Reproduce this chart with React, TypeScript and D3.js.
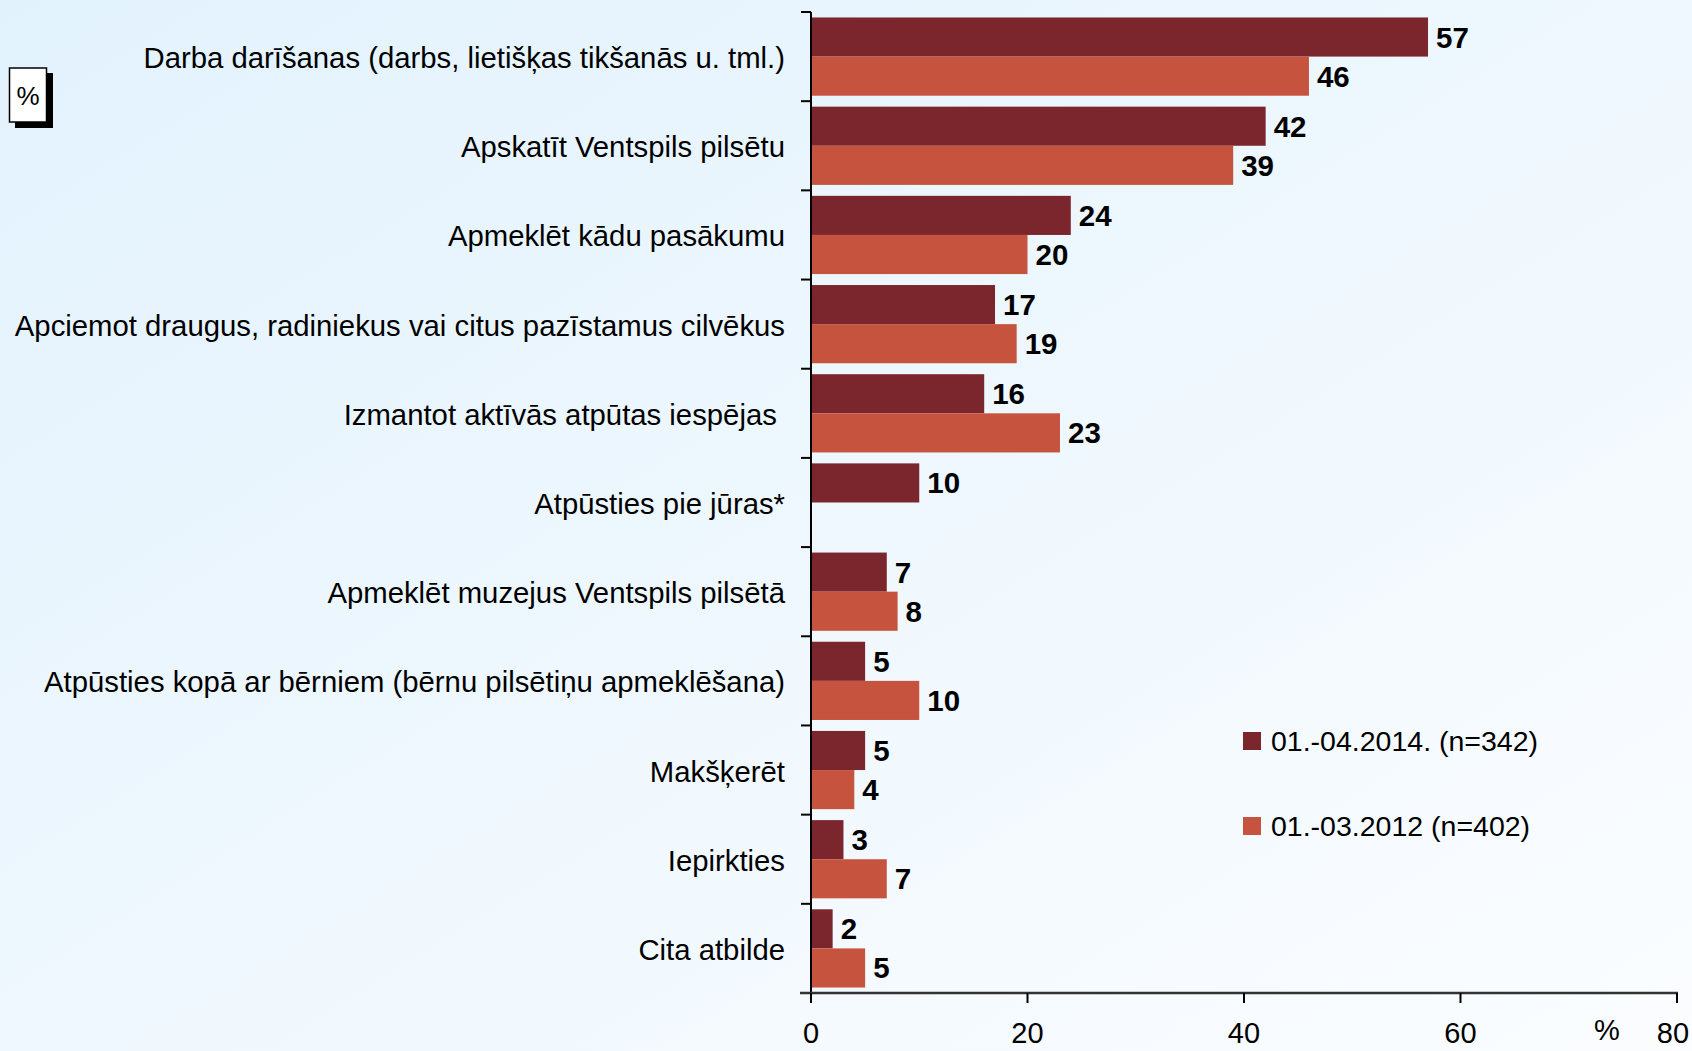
import React from 'react';
import * as d3 from 'd3';

const categories = [
  'Darba darīšanas (darbs, lietišķas tikšanās u. tml.)',
  'Apskatīt Ventspils pilsētu',
  'Apmeklēt kādu pasākumu',
  'Apciemot draugus, radiniekus vai citus pazīstamus cilvēkus',
  'Izmantot aktīvās atpūtas iespējas\u00a0',
  'Atpūsties pie jūras*',
  'Apmeklēt muzejus Ventspils pilsētā',
  'Atpūsties kopā ar bērniem (bērnu pilsētiņu apmeklēšana)',
  'Makšķerēt',
  'Iepirkties',
  'Cita atbilde',
];
const values2014 = [57, 42, 24, 17, 16, 10, 7, 5, 5, 3, 2];
const values2012 = [46, 39, 20, 19, 23, null, 8, 10, 4, 7, 5];
const seriesNames = ['01.-04.2014. (n=342)', '01.-03.2012 (n=402)'];
const seriesColors = ['#7b262c', '#c6533e'];
const xTicks = [0, 20, 40, 60, 80];

const W = 1692;
const H = 1051;
const font = '"Liberation Sans", Arial, sans-serif';

const App = () => {
  const x = d3.scaleLinear().domain([0, 80]).range([811, 1677]);
  const y = d3.scaleBand().domain(categories).range([12, 993]).paddingInner(0).paddingOuter(0);
  const sub = d3
    .scaleBand()
    .domain(['a', 'b'])
    .range([0, y.bandwidth()])
    .paddingInner(0)
    .paddingOuter(0.14);
  const series = [values2014, values2012];
  const keys = ['a', 'b'];

  return (
    <svg
      width={W}
      height={H}
      style={{ position: 'absolute', left: 0, top: 0, display: 'block' }}
      fontFamily={font}
    >
      <defs>
        <linearGradient id="bg" x1="0" y1="0" x2="1" y2="1">
          <stop offset="0" stopColor="#e2f2fd" />
          <stop offset="1" stopColor="#fbfdff" />
        </linearGradient>
      </defs>
      <rect x={0} y={0} width={W} height={H} fill="url(#bg)" />

      {/* % box top-left */}
      <rect x={15} y={73} width={38} height={55} fill="#000" />
      <rect x={9.5} y={68} width={37} height={54} fill="#fff" stroke="#000" strokeWidth={1.5} />
      <text x={28} y={96} textAnchor="middle" dominantBaseline="central" fontSize={26}>
        %
      </text>

      {/* bars */}
      {categories.map((c, i) => (
        <g key={c}>
          {series.map((s, j) => {
            const v = s[i];
            if (v == null) return null;
            const y0 = (y(c) ?? 0) + (sub(keys[j]) ?? 0);
            return (
              <g key={j}>
                <rect
                  x={x(0)}
                  y={y0}
                  width={x(v) - x(0)}
                  height={sub.bandwidth()}
                  fill={seriesColors[j]}
                />
                <text
                  x={x(v) + 8}
                  y={y0 + sub.bandwidth() / 2}
                  dominantBaseline="central"
                  fontSize={29.5}
                  fontWeight="bold"
                  fill="#000"
                >
                  {v}
                </text>
              </g>
            );
          })}
          <text
            x={785}
            y={(y(c) ?? 0) + y.bandwidth() / 2 + 1}
            textAnchor="end"
            dominantBaseline="central"
            fontSize={29.3}
            fill="#000"
          >
            {c}
          </text>
        </g>
      ))}

      {/* y axis */}
      <line x1={x(0)} x2={x(0)} y1={12} y2={1003} stroke="#000" strokeWidth={2} />
      {categories.map((c) => y(c) ?? 0).map((t, i) => (
        <line key={i} x1={x(0) - 10} x2={x(0)} y1={t} y2={t} stroke="#000" strokeWidth={2} />
      ))}

      {/* x axis */}
      <line x1={x(0) - 11} x2={x(80) + 1} y1={993} y2={993} stroke="#333" strokeWidth={2.5} />
      {xTicks.map((t) => (
        <g key={t}>
          <line x1={x(t)} x2={x(t)} y1={993} y2={1003} stroke="#000" strokeWidth={2} />
          <text
            x={t === 80 ? x(t) - 4 : x(t)}
            y={1043}
            textAnchor="middle"
            fontSize={29}
            fill="#000"
          >
            {t}
          </text>
        </g>
      ))}
      <text x={1607} y={1040} textAnchor="middle" fontSize={29} fill="#000">
        %
      </text>

      {/* legend */}
      {seriesNames.map((n, j) => (
        <g key={n} transform={`translate(1243, ${732 + j * 85})`}>
          <rect x={0} y={0} width={18} height={18} fill={seriesColors[j]} />
          <text x={28} y={9} dominantBaseline="central" fontSize={28.5} fill="#000">
            {n}
          </text>
        </g>
      ))}
    </svg>
  );
};

export default App;
